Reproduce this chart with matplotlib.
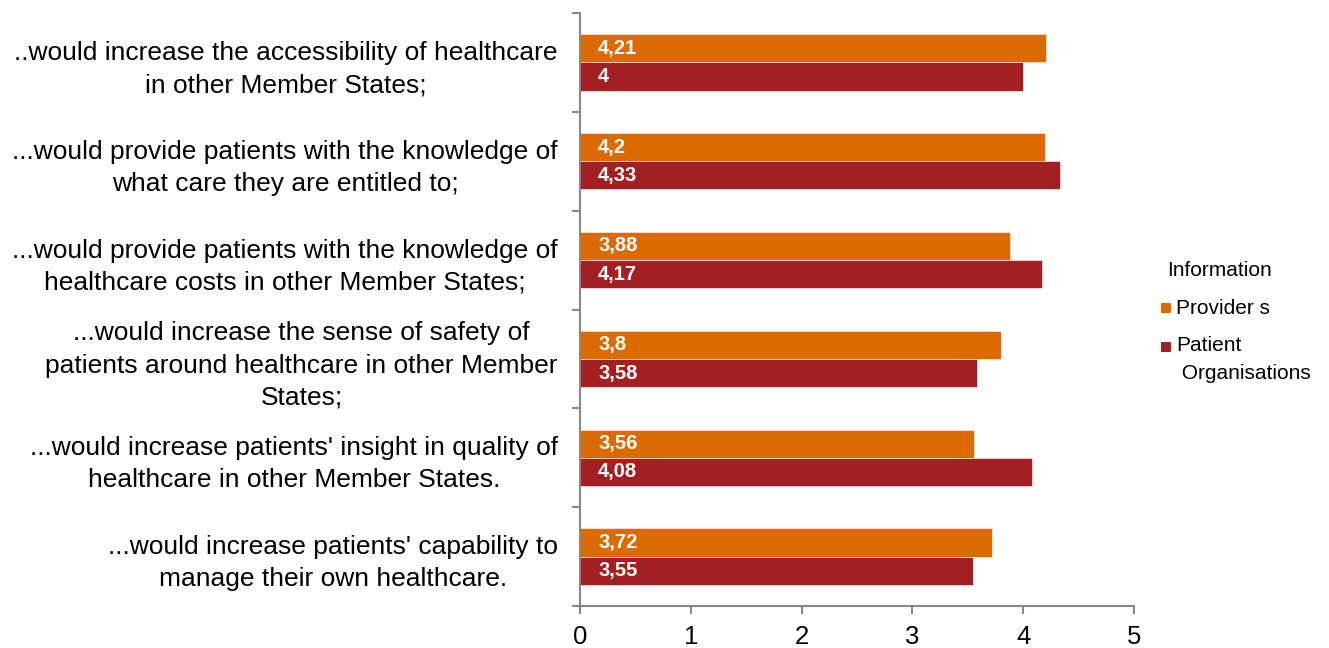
import matplotlib
matplotlib.use("Agg")
import matplotlib.pyplot as plt
import numpy as np
from matplotlib.patches import Rectangle

plt.rcParams['font.family'] = ['Liberation Sans', 'DejaVu Sans']

categories = [
    "..would increase the accessibility of healthcare\nin other Member States;",
    "...would provide patients with the knowledge of\nwhat care they are entitled to;",
    "...would provide patients with the knowledge of\nhealthcare costs in other Member States;",
    "...would increase the sense of safety of\npatients around healthcare in other Member\nStates;",
    "...would increase patients' insight in quality of\nhealthcare in other Member States.",
    "...would increase patients' capability to\nmanage their own healthcare.",
]
providers = [4.21, 4.2, 3.88, 3.8, 3.56, 3.72]
patient_orgs = [4.0, 4.33, 4.17, 3.58, 4.08, 3.55]
series_names = ["Provider s", "Patient\n Organisations"]
legend_title = "Information"
xticks = [0, 1, 2, 3, 4, 5]

c_prov = "#DD6A00"
c_pat = "#A31F22"
grey = "#888888"

W, H = 1329, 648
fig = plt.figure(figsize=(W / 100, H / 100), dpi=100)
ax = fig.add_axes([580 / W, 1 - 606 / H, 554 / W, 593 / H])

y = np.arange(len(categories))
h = 0.285
b1 = ax.barh(y - h / 2, providers, height=h, color=c_prov, edgecolor="white", linewidth=0.4)
b2 = ax.barh(y + h / 2, patient_orgs, height=h, color=c_pat, edgecolor="white", linewidth=0.4)

def fmt(v):
    s = f"{v:.2f}".rstrip("0").rstrip(".")
    return s.replace(".", ",")

for bars, vals in ((b1, providers), (b2, patient_orgs)):
    for bar, v in zip(bars, vals):
        ax.annotate(fmt(v), xy=(0, bar.get_y() + bar.get_height() / 2),
                    xytext=(13, 0), textcoords="offset points",
                    ha="left", va="center", color="white",
                    fontsize=14.5, fontweight="bold")

ax.set_xlim(0, 5)
ax.set_ylim(len(categories) - 0.5, -0.5)
ax.set_xticks(xticks)
ax.set_xticklabels([str(t) for t in xticks], fontsize=18.5)
ax.set_yticks(y)
ax.set_yticklabels(categories, fontsize=19, ha="right", multialignment="center",
                   linespacing=1.43)
ax.set_yticks(np.arange(-0.5, len(categories)), minor=True)
ax.tick_params(axis="y", which="major", length=0, pad=16)
ax.tick_params(axis="y", which="minor", length=6, color=grey, width=1.5, direction="out")
ax.tick_params(axis="x", length=6, color=grey, width=1.5, direction="out", pad=8)

for s in ("top", "right"):
    ax.spines[s].set_visible(False)
for s in ("left", "bottom"):
    ax.spines[s].set_color(grey)
    ax.spines[s].set_linewidth(1.5)

# legend drawn in figure pixels
def fx(px):
    return px / W

def fy(py):
    return 1 - py / H

fig.text(fx(1167), fy(270), legend_title, fontsize=15, ha="left", va="center")
legend_rows = [(c_prov, series_names[0], 308), (c_pat, series_names[1], 347)]
for color, label, py in legend_rows:
    fig.patches.append(Rectangle((fx(1161), fy(py + 5)), 10 / W, 10 / H,
                                 transform=fig.transFigure, facecolor=color,
                                 edgecolor="none"))
    if "\n" in label:
        fig.text(fx(1176), fy(py - 11), label, fontsize=15, ha="left", va="top",
                 linespacing=1.6)
    else:
        fig.text(fx(1176), fy(py), label, fontsize=15, ha="left", va="center")

fig.savefig("out.png", dpi=100)
